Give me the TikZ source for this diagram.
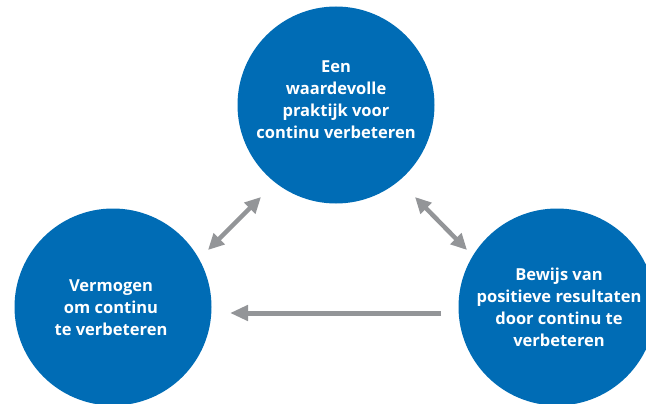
\documentclass[tikz,border=0pt]{standalone}
\usepackage{fontspec}
\setmainfont{Open Sans}
\usetikzlibrary{arrows.meta}
\definecolor{cblue}{HTML}{006CB5}
\definecolor{cgrey}{HTML}{939598}
\begin{document}
\begin{tikzpicture}[x=1pt,y=-1pt,
  bubble/.style={circle,fill=cblue,minimum size=197pt,inner sep=0pt},
  txt/.style={text=white,align=center,inner sep=0pt,font=\fontsize{16.5}{22}\selectfont\bfseries},
  conn/.style={cgrey,line width=5pt,-{Triangle[length=18pt,width=15pt]}},
  dconn/.style={cgrey,line width=4.5pt,{Triangle[length=16pt,width=15pt]}-{Triangle[length=16pt,width=15pt]}}]
\useasboundingbox (0,0) rectangle (646,404);
\clip (0,0) rectangle (646,404);
\node[bubble] (top) at (336,105) {};
\node[bubble] (left) at (113,307) {};
\node[bubble] (right) at (557,307) {};
\node[txt] (toptxt) at (336,100) {Een\\waardevolle\\praktijk voor\\continu verbeteren};
\node[txt] (lefttxt) at (111,308) {Vermogen\\om continu\\te verbeteren};
\node[txt] (righttxt) at (559,307.5) {Bewijs van\\positieve resultaten\\door continu te\\verbeteren};
\coordinate (l1) at (208,250);
\coordinate (l2) at (261,197);
\coordinate (r1) at (415,197);
\coordinate (r2) at (467,250);
\coordinate (h1) at (441,313);
\coordinate (h2) at (230,313);
\draw[dconn] (l1) -- (l2);
\draw[dconn] (r1) -- (r2);
\draw[conn] (h1) -- (h2);
\end{tikzpicture}
\end{document}
